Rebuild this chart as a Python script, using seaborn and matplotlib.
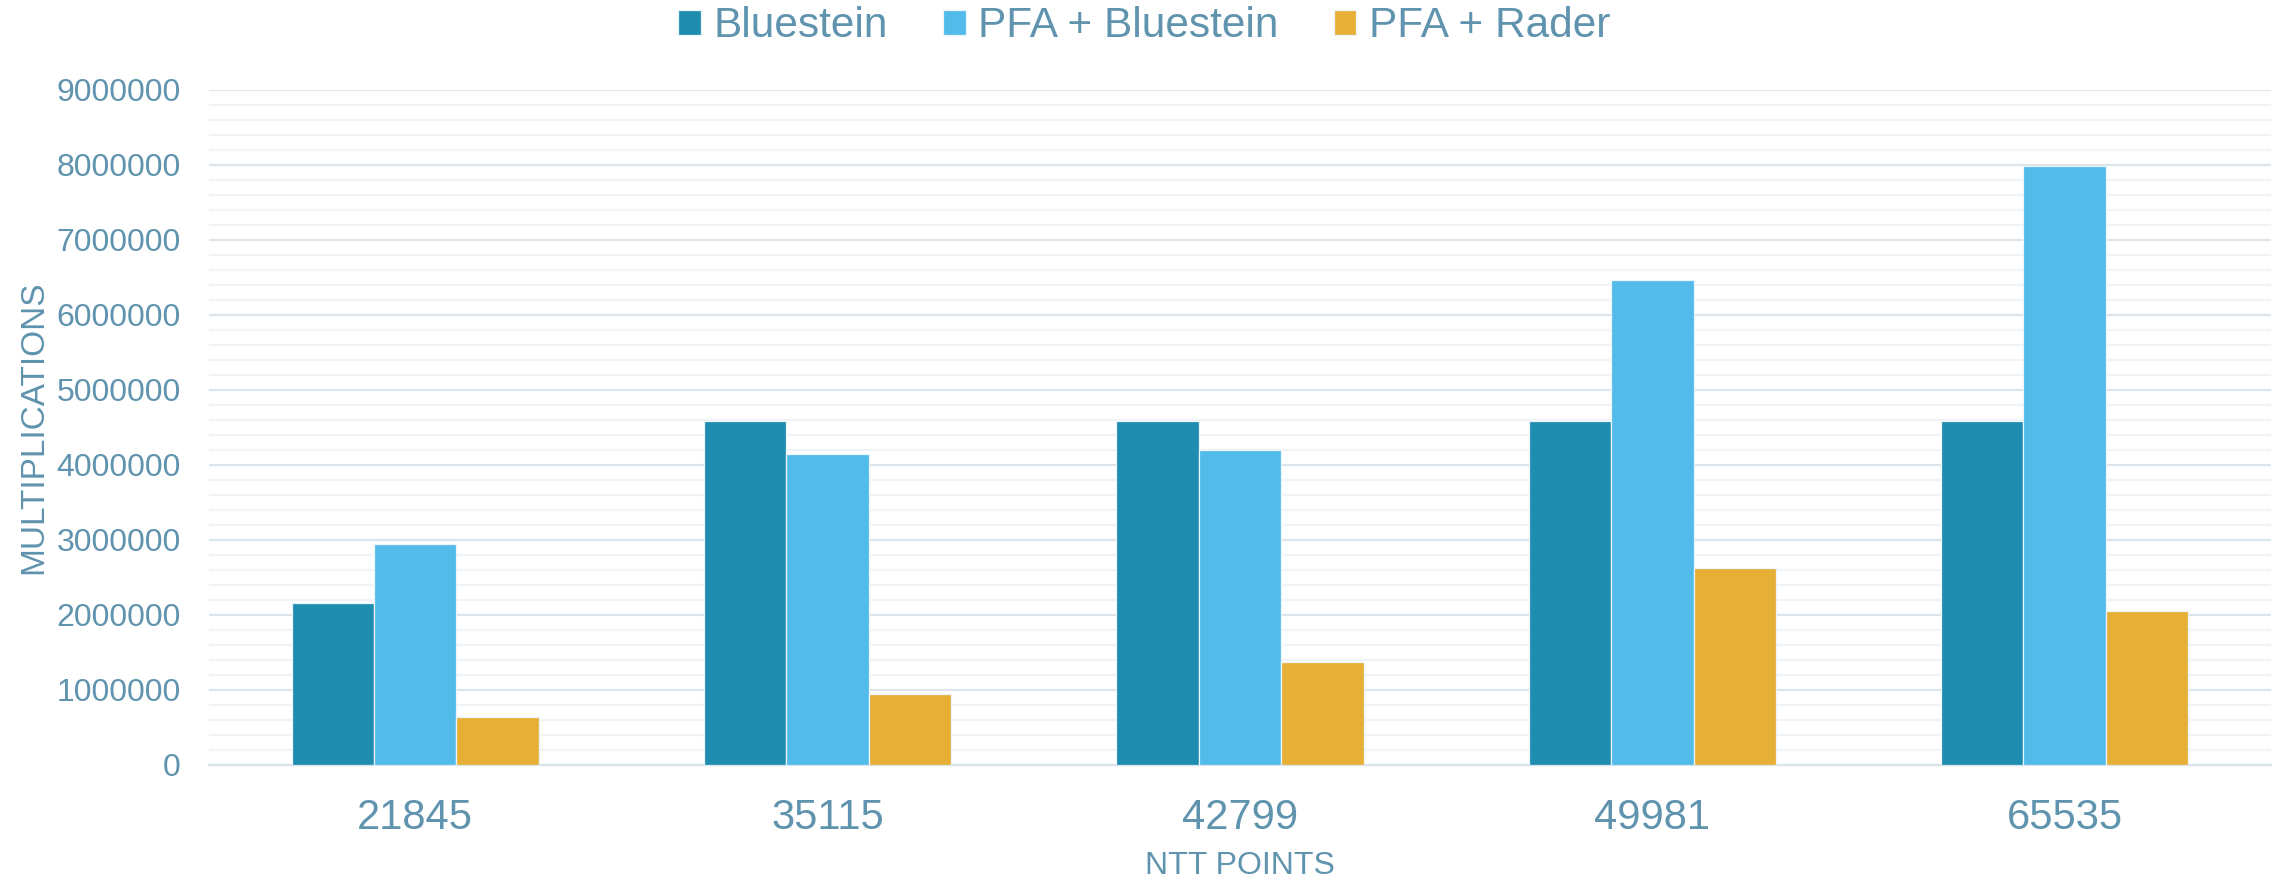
import matplotlib
matplotlib.use("Agg")
import matplotlib.pyplot as plt
from matplotlib.ticker import MultipleLocator, FuncFormatter
import pandas as pd
import seaborn as sns

ntt_points = ["21845", "35115", "42799", "49981", "65535"]
methods = ["Bluestein", "PFA + Bluestein", "PFA + Rader"]
bluestein = [2156000, 4587000, 4587000, 4587000, 4587000]
pfa_bluestein = [2940000, 4140000, 4196000, 6467000, 7987000]
pfa_rader = [636000, 947000, 1378000, 2620000, 2053000]
colors = ["#1F8DB0", "#53BBEA", "#E6B037"]

TEXT = "#5F93AE"

rows = []
for name, vals in zip(methods, [bluestein, pfa_bluestein, pfa_rader]):
    for p, v in zip(ntt_points, vals):
        rows.append({"points": p, "mult": v, "method": name})
df = pd.DataFrame(rows)

sns.set_theme(style="white")
plt.rcParams["font.family"] = ["Liberation Sans", "DejaVu Sans"]

fig = plt.figure(figsize=(22.75, 8.81), dpi=100)
ax = fig.add_axes([0.0919, 0.1317, 0.9063, 0.7662])

sns.barplot(data=df, x="points", y="mult", hue="method", order=ntt_points,
            hue_order=methods, palette=colors, saturation=1, width=0.6, gap=0,
            edgecolor="#EAF4FA", linewidth=0.9, ax=ax, legend=True, zorder=3)

ax.set_xlim(-0.5, len(ntt_points) - 0.5)
ax.set_ylim(0, 9000000)
ax.yaxis.set_major_locator(MultipleLocator(1000000))
ax.yaxis.set_minor_locator(MultipleLocator(200000))
ax.grid(axis="y", which="major", color="#DCE5EC", linewidth=1.6, zorder=0)
ax.grid(axis="y", which="minor", color="#F0F4F7", linewidth=1.6, zorder=0)
ax.set_axisbelow(True)

for s in ["top", "right", "left"]:
    ax.spines[s].set_visible(False)
ax.spines["bottom"].set_color("#D9E3EA")
ax.spines["bottom"].set_linewidth(1.6)

ax.tick_params(axis="y", which="both", length=0, pad=20.5, labelsize=23, labelcolor=TEXT)
ax.tick_params(axis="x", length=0, pad=24, labelsize=30, labelcolor=TEXT)
ax.yaxis.set_major_formatter(FuncFormatter(lambda v, p: f"{int(v)}"))

ax.set_xlabel("NTT POINTS", fontsize=23, color=TEXT, labelpad=9)
ax.set_ylabel("MULTIPLICATIONS", fontsize=24, color=TEXT)
ax.yaxis.set_label_coords(-0.0775, 0.5)

ax.get_legend().remove()
handles, labels = ax.get_legend_handles_labels()
fig.legend(handles[:3], labels[:3], loc="center", bbox_to_anchor=(0.503, 0.970),
           ncol=3, frameon=False, fontsize=30.5, labelcolor=TEXT,
           handlelength=0.53, handleheight=0.53, handletextpad=0.3,
           columnspacing=1.3)

fig.savefig("out.png", dpi=100)
